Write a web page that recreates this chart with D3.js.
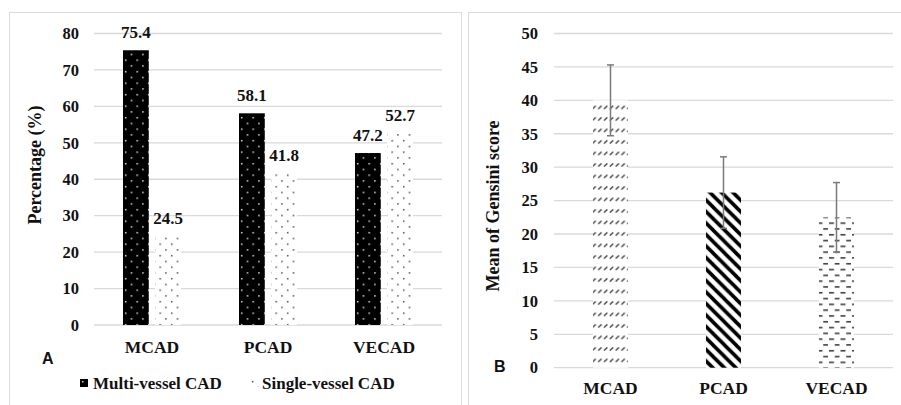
<!DOCTYPE html>
<html>
<head>
<meta charset="utf-8">
<script src="https://cdn.jsdelivr.net/npm/d3@7"></script>
<style>
  body { margin: 0; background: #fff; }
  svg { display: block; }
  text { font-family: "Liberation Serif", "Times New Roman", serif; font-weight: bold; fill: #111; }
  .panel-tag { font-family: "Liberation Sans", Arial, sans-serif; }
</style>
</head>
<body>
<svg id="chart" width="901" height="405"></svg>
<script>
// panel A data
var categories = ["MCAD", "PCAD", "VECAD"];
var seriesNames = ["Multi-vessel CAD", "Single-vessel CAD"];
var multiVessel = [75.4, 58.1, 47.2];
var singleVessel = [24.5, 41.8, 52.7];
var ticksA = [0, 10, 20, 30, 40, 50, 60, 70, 80];

// panel B data
var gensiniMean = [40.0, 26.2, 22.5];
var gensiniErr = [5.3, 5.35, 5.2];
var ticksB = [0, 5, 10, 15, 20, 25, 30, 35, 40, 45, 50];

var svg = d3.select("#chart");
var defs = svg.append("defs");

// fill patterns
var p = defs.append("pattern").attr("id", "dotsDark").attr("patternUnits", "userSpaceOnUse")
  .attr("width", 11.5).attr("height", 11.5);
p.append("rect").attr("width", 11.5).attr("height", 11.5).attr("fill", "#000");
p.append("rect").attr("x", 2).attr("y", 2).attr("width", 1.4).attr("height", 1.4).attr("fill", "#fff");
p.append("rect").attr("x", 7.75).attr("y", 7.75).attr("width", 1.4).attr("height", 1.4).attr("fill", "#fff");

p = defs.append("pattern").attr("id", "dotsLight").attr("patternUnits", "userSpaceOnUse")
  .attr("width", 11.5).attr("height", 11.5);
p.append("rect").attr("width", 11.5).attr("height", 11.5).attr("fill", "#fff");
p.append("rect").attr("x", 2).attr("y", 2).attr("width", 1.4).attr("height", 1.4).attr("fill", "#333");
p.append("rect").attr("x", 7.75).attr("y", 7.75).attr("width", 1.4).attr("height", 1.4).attr("fill", "#333");

p = defs.append("pattern").attr("id", "slashes").attr("patternUnits", "userSpaceOnUse")
  .attr("width", 5.8).attr("height", 11.5);
p.append("rect").attr("width", 5.8).attr("height", 11.5).attr("fill", "#fff");
p.append("line").attr("x1", 0.8).attr("y1", 5.5).attr("x2", 4.2).attr("y2", 2.5)
  .attr("stroke", "#333").attr("stroke-width", 1.3);

p = defs.append("pattern").attr("id", "stripes").attr("patternUnits", "userSpaceOnUse")
  .attr("width", 11.5).attr("height", 11.5);
p.append("rect").attr("width", 11.5).attr("height", 11.5).attr("fill", "#fff");
p.append("path").attr("d", "M-3,-3 L14.5,14.5 M-3,8.5 L3,14.5 M8.5,-3 L14.5,3")
  .attr("stroke", "#000").attr("stroke-width", 3.6);

p = defs.append("pattern").attr("id", "dashes").attr("patternUnits", "userSpaceOnUse")
  .attr("width", 11.5).attr("height", 11.6);
p.append("rect").attr("width", 11.5).attr("height", 11.6).attr("fill", "#fff");
p.append("rect").attr("x", 1).attr("y", 2).attr("width", 5).attr("height", 1.5).attr("fill", "#333");
p.append("rect").attr("x", 6.75).attr("y", 7.8).attr("width", 5).attr("height", 1.5).attr("fill", "#333");

var seriesFill = ["url(#dotsDark)", "url(#dotsLight)"];
var gensiniFill = ["url(#slashes)", "url(#stripes)", "url(#dashes)"];

// panel frames
svg.append("rect").attr("x", 9.5).attr("y", 12.5).attr("width", 452).attr("height", 400)
  .attr("fill", "none").attr("stroke", "#dcdcdc");
svg.append("rect").attr("x", 468.5).attr("y", 12.5).attr("width", 440).attr("height", 400)
  .attr("fill", "none").attr("stroke", "#dcdcdc");

// ---------- panel A ----------
var yA = d3.scaleLinear().domain([0, 80]).range([325, 33.5]);
var x0 = d3.scaleBand().domain(categories).range([94, 442]).paddingInner(0.5).paddingOuter(0.25);
var x1 = d3.scaleBand().domain(seriesNames).range([0, x0.bandwidth()]).paddingInner(0.2);

var gA = svg.append("g");
gA.selectAll(".grid").data(ticksA).enter().append("line")
  .attr("class", "grid")
  .attr("x1", 94).attr("x2", 442)
  .attr("y1", function(d) {return yA(d);}).attr("y2", function(d) {return yA(d);})
  .attr("stroke", "#d9d9d9").attr("stroke-width", 1.3);

gA.selectAll(".tick").data(ticksA).enter().append("text")
  .attr("x", 79).attr("y", function(d) {return yA(d);})
  .attr("dy", ".35em").attr("text-anchor", "end").style("font-size", "16.5px")
  .text(function(d) {return d;});

var rows = categories.map(function(c, i) {
  return {cat: c, values: [multiVessel[i], singleVessel[i]]};
});
var grp = gA.selectAll(".grp").data(rows).enter().append("g")
  .attr("transform", function(d) {return "translate(" + x0(d.cat) + ",0)";});
grp.selectAll("rect").data(function(d) {return d.values;}).enter().append("rect")
  .attr("x", function(d, i) {return x1(seriesNames[i]);})
  .attr("width", x1.bandwidth())
  .attr("y", function(d) {return yA(d);})
  .attr("height", function(d) {return yA(0) - yA(d);})
  .attr("fill", function(d, i) {return seriesFill[i];});
grp.selectAll(".val").data(function(d) {return d.values;}).enter().append("text")
  .attr("x", function(d, i) {return x1(seriesNames[i]) + x1.bandwidth() / 2;})
  .attr("y", function(d) {return yA(d) - 12;})
  .attr("text-anchor", "middle").style("font-size", "17px")
  .text(function(d) {return d.toFixed(1);});

gA.selectAll(".cat").data(categories).enter().append("text")
  .attr("x", function(d) {return x0(d) + x0.bandwidth() / 2;})
  .attr("y", 353).attr("text-anchor", "middle").style("font-size", "17.5px")
  .text(function(d) {return d;});

gA.append("text").attr("transform", "translate(41,165) rotate(-90)")
  .attr("text-anchor", "middle").style("font-size", "18px").text("Percentage (%)");
gA.append("text").attr("class", "panel-tag").attr("x", 42).attr("y", 364)
  .style("font-size", "16px").text("A");

// legend
var legend = gA.selectAll(".leg").data(seriesNames).enter().append("g")
  .attr("transform", function(d, i) {return "translate(" + (i == 0 ? 80 : 250) + ",379)";});
legend.append("rect").attr("width", function(d, i) {return i == 0 ? 8 : 9;}).attr("height", 8)
  .attr("fill", function(d, i) {return seriesFill[i];});
legend.append("text").attr("x", function(d, i) {return i == 0 ? 13 : 12;}).attr("y", 4)
  .attr("dy", ".35em").style("font-size", "17px")
  .text(function(d) {return d;});

// ---------- panel B ----------
var yB = d3.scaleLinear().domain([0, 50]).range([367.7, 33.5]);
var xB = d3.scaleBand().domain(categories).range([554, 893]).paddingInner(0.69).paddingOuter(0.345);

var gB = svg.append("g");
gB.selectAll(".grid").data(ticksB).enter().append("line")
  .attr("x1", 554).attr("x2", 893)
  .attr("y1", function(d) {return yB(d);}).attr("y2", function(d) {return yB(d);})
  .attr("stroke", "#d9d9d9").attr("stroke-width", 1.3);

gB.selectAll(".tick").data(ticksB).enter().append("text")
  .attr("x", 538).attr("y", function(d) {return yB(d);})
  .attr("dy", ".35em").attr("text-anchor", "end").style("font-size", "16.5px")
  .text(function(d) {return d;});

gB.selectAll(".bar").data(gensiniMean).enter().append("rect")
  .attr("x", function(d, i) {return xB(categories[i]);})
  .attr("width", xB.bandwidth())
  .attr("y", function(d) {return yB(d);})
  .attr("height", function(d) {return yB(0) - yB(d);})
  .attr("fill", function(d, i) {return gensiniFill[i];});

var err = gB.selectAll(".err").data(gensiniMean).enter().append("g")
  .attr("stroke", "#7a7a7a").attr("stroke-width", 1.5);
err.append("line")
  .attr("x1", function(d, i) {return xB(categories[i]) + xB.bandwidth() / 2;})
  .attr("x2", function(d, i) {return xB(categories[i]) + xB.bandwidth() / 2;})
  .attr("y1", function(d, i) {return yB(d + gensiniErr[i]);})
  .attr("y2", function(d, i) {return yB(d - gensiniErr[i]);});
[1, -1].forEach(function(s) {
  err.append("line")
    .attr("x1", function(d, i) {return xB(categories[i]) + xB.bandwidth() / 2 - 3.5;})
    .attr("x2", function(d, i) {return xB(categories[i]) + xB.bandwidth() / 2 + 3.5;})
    .attr("y1", function(d, i) {return yB(d + s * gensiniErr[i]);})
    .attr("y2", function(d, i) {return yB(d + s * gensiniErr[i]);});
});

gB.selectAll(".cat").data(categories).enter().append("text")
  .attr("x", function(d) {return xB(d) + xB.bandwidth() / 2;})
  .attr("y", 394).attr("text-anchor", "middle").style("font-size", "17.5px")
  .text(function(d) {return d;});

gB.append("text").attr("transform", "translate(499,206) rotate(-90)")
  .attr("text-anchor", "middle").style("font-size", "18px").text("Mean of Gensini score");
gB.append("text").attr("class", "panel-tag").attr("x", 494).attr("y", 372)
  .style("font-size", "16px").text("B");
</script>
</body>
</html>
